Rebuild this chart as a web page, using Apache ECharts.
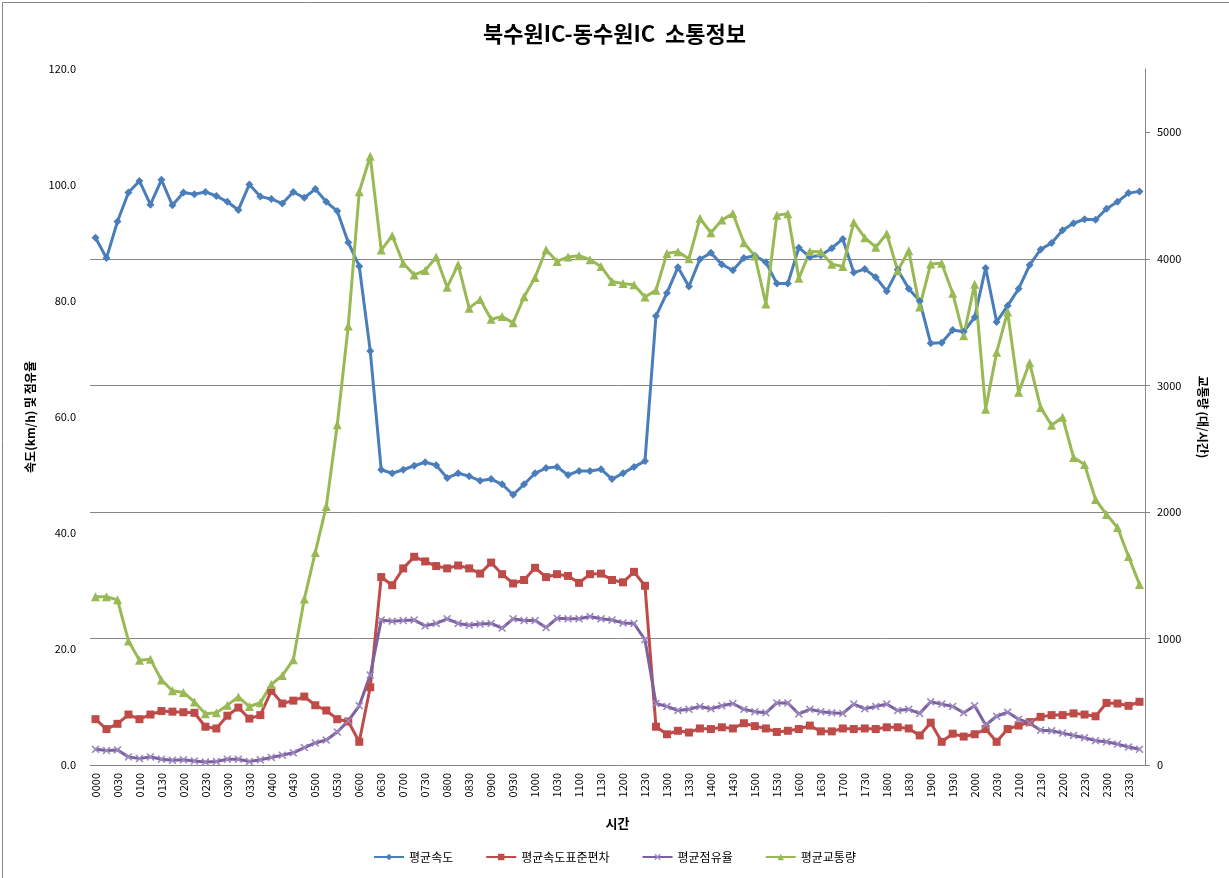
<!DOCTYPE html>
<html>
<head>
<meta charset="utf-8">
<script src="https://cdn.jsdelivr.net/npm/echarts@6/dist/echarts.min.js"></script>
<style>
html,body{margin:0;padding:0;background:#fff;}
#chart{width:1229px;height:878px;}
</style>
</head>
<body>
<div id="chart"></div>
<script>
const times = ['0000','0015','0030','0045','0100','0115','0130','0145','0200','0215','0230','0245',
'0300','0315','0330','0345','0400','0415','0430','0445','0500','0515','0530','0545',
'0600','0615','0630','0645','0700','0715','0730','0745','0800','0815','0830','0845',
'0900','0915','0930','0945','1000','1015','1030','1045','1100','1115','1130','1145',
'1200','1215','1230','1245','1300','1315','1330','1345','1400','1415','1430','1445',
'1500','1515','1530','1545','1600','1615','1630','1645','1700','1715','1730','1745',
'1800','1815','1830','1845','1900','1915','1930','1945','2000','2015','2030','2045',
'2100','2115','2130','2145','2200','2215','2230','2245','2300','2315','2330','2345'];

const speed = [90.9,87.4,93.7,98.7,100.7,96.6,100.9,96.5,98.7,98.4,98.8,98.1,
97.1,95.7,100.1,98.0,97.6,96.8,98.8,97.8,99.3,97.1,95.5,90.1,
86.0,71.4,50.9,50.3,50.9,51.6,52.2,51.7,49.5,50.3,49.8,49.0,
49.3,48.4,46.6,48.4,50.3,51.2,51.4,50.0,50.7,50.7,51.0,49.3,
50.3,51.4,52.4,77.4,81.4,85.8,82.5,87.2,88.3,86.3,85.3,87.4,
87.8,86.7,83.0,83.0,89.2,87.6,87.9,89.1,90.7,84.9,85.5,84.1,
81.7,85.4,82.1,80.0,72.7,72.8,75.0,74.7,77.2,85.7,76.4,79.2,
82.1,86.2,88.9,90.0,92.2,93.4,94.1,94.0,95.9,97.1,98.6,98.9];

const speedStd = [7.9,6.2,7.1,8.7,7.9,8.7,9.3,9.2,9.1,9.0,6.6,6.3,
8.5,9.9,8.0,8.6,12.8,10.6,11.1,11.8,10.3,9.4,7.9,7.5,
4.0,13.4,32.4,31.0,33.9,35.9,35.1,34.3,33.9,34.4,33.9,33.0,
34.9,32.9,31.3,31.9,34.0,32.4,32.9,32.6,31.4,32.9,33.0,31.9,
31.5,33.3,30.9,6.6,5.3,5.9,5.6,6.3,6.2,6.5,6.3,7.2,
6.7,6.3,5.7,5.9,6.2,6.8,5.8,5.8,6.3,6.2,6.3,6.2,
6.5,6.5,6.3,5.1,7.3,4.0,5.4,4.9,5.3,6.2,4.0,6.2,
6.8,7.4,8.3,8.6,8.6,8.9,8.7,8.4,10.7,10.6,10.2,10.9];

const occupancy = [2.7,2.5,2.6,1.4,1.1,1.4,1.0,0.8,0.9,0.7,0.5,0.6,
1.0,1.0,0.6,0.9,1.3,1.7,2.1,3.0,3.8,4.3,5.7,7.6,
10.2,15.5,25.0,24.8,24.9,25.0,24.0,24.4,25.2,24.4,24.1,24.3,
24.4,23.6,25.2,24.9,24.9,23.7,25.3,25.2,25.2,25.6,25.2,25.0,
24.5,24.4,21.6,10.6,10.1,9.4,9.6,10.1,9.7,10.2,10.6,9.6,
9.2,9.0,10.7,10.7,8.8,9.6,9.2,9.0,8.9,10.5,9.7,10.1,
10.5,9.4,9.6,8.9,10.9,10.5,10.1,9.0,10.2,6.9,8.4,9.1,
7.9,7.2,6.0,5.9,5.5,5.1,4.7,4.2,4.0,3.6,3.1,2.7];

const volume = [1330,1330,1305,980,828,835,672,587,573,498,405,412,
473,538,462,492,637,707,832,1312,1680,2043,2689,3470,
4530,4811,4069,4183,3965,3873,3908,4014,3775,3954,3610,3678,
3522,3544,3494,3700,3853,4072,3979,4015,4025,3993,3940,3820,
3804,3796,3699,3752,4043,4055,4000,4320,4206,4306,4358,4127,
4022,3643,4344,4357,3846,4057,4056,3958,3939,4288,4167,4092,
4198,3906,4064,3620,3960,3965,3728,3392,3800,2812,3262,3580,
2945,3178,2826,2685,2748,2430,2374,2098,1979,1877,1648,1427];

const leftTicks = [0, 20, 40, 60, 80, 100, 120];
const rightTicks = [0, 1000, 2000, 3000, 4000, 5000];

const FONT = '"Noto Sans CJK KR", "Noto Sans", sans-serif';
const xMark = 'path://M0,1.4L1.4,0L5,3.6L8.6,0L10,1.4L6.4,5L10,8.6L8.6,10L5,6.4L1.4,10L0,8.6L3.6,5Z';

const chart = echarts.init(document.getElementById('chart'), null, {renderer: 'canvas'});
chart.setOption({
  backgroundColor: '#ffffff',
  animation: false,
  textStyle: {fontFamily: FONT},
  title: {
    text: '북수원IC-동수원IC  소통정보',
    left: 'center', top: 18,
    textStyle: {fontFamily: FONT, fontSize: 22, fontWeight: 'bold', color: '#000'}
  },
  legend: {
    bottom: 10, left: 'center',
    itemWidth: 30, itemHeight: 8, itemGap: 32,
    textStyle: {fontFamily: FONT, fontSize: 12, color: '#000'},
    data: ['평균속도', '평균속도표준편차', '평균점유율', '평균교통량']
  },
  graphic: [{
    type: 'rect', left: 0, top: 0, z: -10,
    shape: {x: 0.5, y: 0.5, width: 1227, height: 876},
    style: {fill: 'none', stroke: '#868686', lineWidth: 1}
  }],
  grid: {left: 90, right: 84, top: 69, bottom: 113, containLabel: false},
  xAxis: {
    type: 'category', data: times, boundaryGap: true,
    name: '시간', nameLocation: 'middle', nameGap: 52,
    nameTextStyle: {fontFamily: FONT, fontSize: 13, fontWeight: 'bold', color: '#000'},
    axisLine: {lineStyle: {color: '#868686'}},
    axisTick: {show: false},
    axisLabel: {rotate: 90, interval: 1, fontSize: 11, color: '#000', fontFamily: FONT, margin: 8}
  },
  yAxis: [{
    type: 'value', min: leftTicks[0], max: leftTicks[leftTicks.length - 1], interval: 20,
    name: '속도(km/h) 및 점유율', nameLocation: 'middle', nameGap: 54,
    nameTextStyle: {fontFamily: FONT, fontSize: 12, fontWeight: 'bold', color: '#000'},
    axisLine: {show: false}, axisTick: {show: false}, splitLine: {show: false},
    axisLabel: {fontSize: 11, color: '#000', formatter: v => v.toFixed(1), margin: 14}
  }, {
    type: 'value', min: rightTicks[0], max: 5500, interval: 1000,
    name: '교통량 (대/시간)', nameLocation: 'middle', nameGap: 52, nameRotate: -90,
    nameTextStyle: {fontFamily: FONT, fontSize: 12, fontWeight: 'bold', color: '#000'},
    axisLine: {show: true, lineStyle: {color: '#868686'}},
    axisTick: {show: true, length: 5, customValues: rightTicks, lineStyle: {color: '#868686'}},
    splitLine: {show: true, showMaxLine: false, lineStyle: {color: '#868686', width: 1}},
    axisLabel: {fontSize: 11, color: '#000', margin: 12,
      formatter: v => (rightTicks.indexOf(v) >= 0 ? String(v) : '')}
  }],
  series: [{
    name: '평균속도', type: 'line', yAxisIndex: 0, data: speed,
    symbol: 'diamond', symbolSize: 8, showAllSymbol: true,
    lineStyle: {color: '#4A7EBB', width: 3},
    itemStyle: {color: '#4A7EBB'}
  }, {
    name: '평균속도표준편차', type: 'line', yAxisIndex: 0, data: speedStd,
    symbol: 'rect', symbolSize: 8, showAllSymbol: true,
    lineStyle: {color: '#BE4B48', width: 3},
    itemStyle: {color: '#BE4B48'}
  }, {
    name: '평균점유율', type: 'line', yAxisIndex: 0, data: occupancy,
    symbol: xMark, symbolSize: 8, showAllSymbol: true,
    lineStyle: {color: '#7D60A0', width: 3},
    itemStyle: {color: '#9B88BE'}
  }, {
    name: '평균교통량', type: 'line', yAxisIndex: 1, data: volume,
    symbol: 'triangle', symbolSize: 9, showAllSymbol: true,
    lineStyle: {color: '#98B954', width: 3},
    itemStyle: {color: '#98B954'}
  }]
});
</script>
</body>
</html>
